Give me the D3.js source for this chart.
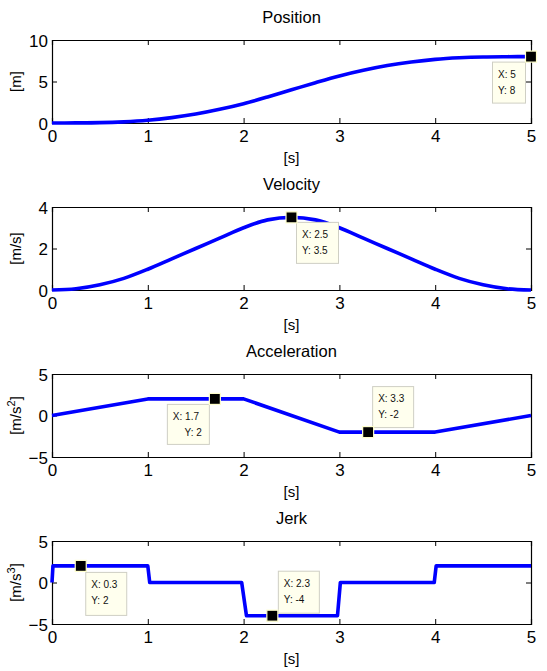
<!DOCTYPE html>
<html>
<head>
<meta charset="utf-8">
<script src="https://cdn.jsdelivr.net/npm/d3@7"></script>
<style>
  html, body { margin: 0; padding: 0; background: #ffffff; }
  svg { display: block; font-family: "Liberation Sans", Arial, sans-serif; }
</style>
</head>
<body>
<svg id="chart" width="547" height="671"></svg>
<script>
// ---------- data ----------
const timeS = [0, 0.25, 0.5, 0.75, 1, 1.25, 1.5, 1.75, 2, 2.25, 2.5, 2.75, 3, 3.25, 3.5, 3.75, 4, 4.25, 4.5, 4.75, 5];
const positionM = [0, 0.01, 0.04, 0.14, 0.33, 0.65, 1.08, 1.65, 2.33, 3.14, 4.0, 4.86, 5.67, 6.35, 6.92, 7.35, 7.67, 7.86, 7.96, 7.99, 8.0];
const velocityMS = [0, 0.06, 0.25, 0.56, 1.0, 1.5, 2.0, 2.5, 3.0, 3.38, 3.5, 3.38, 3.0, 2.5, 2.0, 1.5, 1.0, 0.56, 0.25, 0.06, 0];
const accelT = [0, 1, 2, 3, 4, 5];
const accelV = [0, 2, 2, -2, -2, 0];
const jerkT = [0, 0.01, 1, 1.02, 1.98, 2.03, 2.98, 3.01, 3.99, 4.01, 5];
const jerkV = [0, 2, 2, 0, 0, -4, -4, 0, 0, 2, 2];
const xTicks = [0, 1, 2, 3, 4, 5];
const posTicks = [0, 5, 10];
const velTicks = [0, 2, 4];
const accTicks = [-5, 0, 5];
const jerkTicks = [-5, 0, 5];
const titles = ["Position", "Velocity", "Acceleration", "Jerk"];
const xLabel = "[s]";
// data tips: [panel, x, y, xText, yText]
const tipPanel = [0, 1, 2, 2, 3, 3];
const tipX = [5, 2.5, 1.7, 3.3, 0.3, 2.3];
const tipY = [8, 3.5, 2, -2, 2, -4];
const tipXText = ["X: 5", "X: 2.5", "X: 1.7", "X: 3.3", "X: 0.3", "X: 2.3"];
const tipYText = ["Y: 8", "Y: 3.5", "Y: 2", "Y: -2", "Y: 2", "Y: -4"];

// ---------- layout ----------
const svg = d3.select("#chart");
const left = 52, right = 531;
const tops = [40, 207, 374, 541];
const plotH = 83;
const tickLen = 5;

const panels = [
  { xs: timeS, ys: positionM, domain: [0, 10], ticks: posTicks, label: [{t: "[m]"}], curve: d3.curveMonotoneX },
  { xs: timeS, ys: velocityMS, domain: [0, 4], ticks: velTicks, label: [{t: "[m/s]"}], curve: d3.curveMonotoneX },
  { xs: accelT, ys: accelV, domain: [-5, 5], ticks: accTicks, label: [{t: "[m/s"}, {t: "2", sup: true}, {t: "]"}], curve: d3.curveLinear },
  { xs: jerkT, ys: jerkV, domain: [-5, 5], ticks: jerkTicks, label: [{t: "[m/s"}, {t: "3", sup: true}, {t: "]"}], curve: d3.curveLinear }
];

const x = d3.scaleLinear().domain([0, 5]).range([left, right]);
const scalesY = [];

panels.forEach((p, i) => {
  const top = tops[i], bottom = top + plotH;
  const y = d3.scaleLinear().domain(p.domain).range([bottom, top]);
  scalesY.push(y);
  const g = svg.append("g");

  // axes box
  g.append("rect").attr("x", left).attr("y", top).attr("width", right - left).attr("height", plotH)
    .attr("fill", "#fff").attr("stroke", "none");

  // bottom axis
  const xAxis = d3.axisBottom(x).tickValues(xTicks).tickFormat(d3.format("d")).tickSize(-tickLen).tickPadding(7);
  const gx = g.append("g").attr("transform", `translate(0,${bottom})`).call(xAxis);
  // top ticks
  const gxt = g.append("g").attr("transform", `translate(0,${top})`)
    .call(d3.axisTop(x).tickValues(xTicks).tickSize(-tickLen).tickFormat(""));
  // left axis
  const gy = g.append("g").attr("transform", `translate(${left},0)`)
    .call(d3.axisLeft(y).tickValues(p.ticks).tickFormat(d3.format("d")).tickSize(-tickLen).tickPadding(4));
  // right ticks
  const gyr = g.append("g").attr("transform", `translate(${right},0)`)
    .call(d3.axisRight(y).tickValues(p.ticks).tickSize(-tickLen).tickFormat(""));

  [gx, gxt, gy, gyr].forEach(a => {
    a.selectAll(".domain").attr("stroke", "#000").attr("stroke-width", 1.2);
    a.selectAll(".tick line").attr("stroke", "#000").attr("stroke-width", 1);
    a.selectAll("text").attr("font-size", 17).attr("fill", "#000")
      .attr("font-family", "'Liberation Sans', Arial, sans-serif");
  });
  // hide end ticks sitting on the frame
  [gx, gxt].forEach(a => a.selectAll(".tick line").filter(d => d === 0 || d === 5).remove());
  [gy, gyr].forEach(a => a.selectAll(".tick line").filter(d => d === p.domain[0] || d === p.domain[1]).remove());
  gy.selectAll("text").attr("dy", "0.36em");

  // title
  g.append("text").attr("x", (left + right) / 2).attr("y", top - 17)
    .attr("text-anchor", "middle").attr("font-size", 16.5).attr("fill", "#000").text(titles[i]);
  // x label
  g.append("text").attr("x", (left + right) / 2).attr("y", bottom + 40)
    .attr("text-anchor", "middle").attr("font-size", 15).attr("fill", "#000").text(xLabel);
  // y label
  const yl = g.append("text").attr("transform", `translate(21,${(top + bottom) / 2}) rotate(-90)`)
    .attr("text-anchor", "middle").attr("font-size", 15).attr("fill", "#000");
  p.label.forEach(part => {
    const ts = yl.append("tspan").text(part.t);
    if (part.sup) ts.attr("font-size", 11).attr("dy", "-0.55em");
    else if (part.t === "]") ts.attr("dy", "0.38em");
  });

  // line
  const line = d3.line().x(d => x(d[0])).y(d => y(d[1])).curve(p.curve);
  const pts = p.xs.map((t, k) => [t, p.ys[k]]);
  g.append("path").attr("d", line(pts)).attr("fill", "none")
    .attr("stroke", "#0000ff").attr("stroke-width", 3.6)
    .attr("stroke-linejoin", "round").attr("stroke-linecap", "butt");
});

// ---------- data tips ----------
// box offset from marker centre: [dx, dy, w, h, yTextAlignRight]
const tipBox = [
  [-39, 5, 33, 41, false],
  [4.5, 4.5, 42, 41, false],
  [-48, 5, 42, 40, true],
  [4, -46, 41, 41, false],
  [4.5, 6, 41, 43, false],
  [5.5, -45, 41, 42, false]
];
tipX.forEach((tx, k) => {
  const y = scalesY[tipPanel[k]];
  const mx = x(tx), my = y(tipY[k]);
  const [dx, dy, w, h, alignR] = tipBox[k];
  const bx = mx + dx, by = my + dy;
  const g = svg.append("g");
  g.append("rect").attr("x", bx + 0.5).attr("y", by + 0.5).attr("width", w).attr("height", h)
    .attr("fill", "#ffffee").attr("stroke", "#cfcfc4").attr("stroke-width", 1);
  g.append("text").attr("x", bx + 6).attr("y", by + 16).attr("font-size", 10).attr("fill", "#111")
    .attr("font-family", "'Liberation Sans', Arial, sans-serif").text(tipXText[k]);
  const t2 = g.append("text").attr("y", by + 32).attr("font-size", 10).attr("fill", "#111")
    .attr("font-family", "'Liberation Sans', Arial, sans-serif").text(tipYText[k]);
  if (alignR) t2.attr("x", bx + w - 7).attr("text-anchor", "end");
  else t2.attr("x", bx + 6);
  g.append("rect").attr("x", mx - 5.5).attr("y", my - 5.5).attr("width", 11).attr("height", 11)
    .attr("fill", "#000").attr("stroke", "#ffffcc").attr("stroke-width", 1.2);
});
</script>
</body>
</html>
